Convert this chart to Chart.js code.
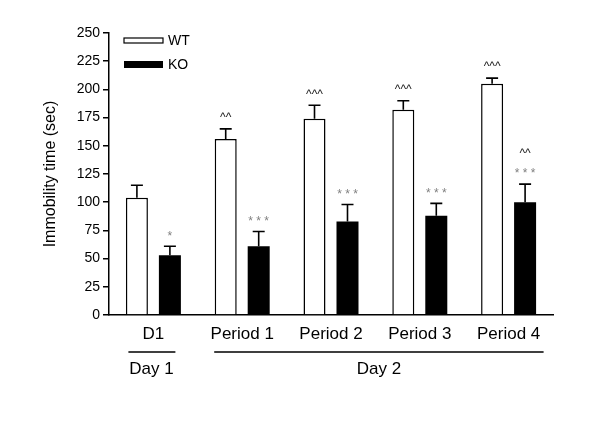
<!DOCTYPE html>
<html>
<head>
<meta charset="utf-8">
<script src="https://cdn.jsdelivr.net/npm/chart.js@4"></script>
<style>
  html, body { margin: 0; padding: 0; background: #fff; }
  #wrap { width: 600px; height: 425px; }
</style>
</head>
<body>
<div id="wrap"><canvas id="chartImob" width="600" height="425"></canvas></div>
<script>
// ===== DADOS =====
const categorias = ['D1', 'Period 1', 'Period 2', 'Period 3', 'Period 4'];
const wtMedia = [104, 156, 174, 182, 205];
const wtErro  = [11, 9, 12, 8, 5];
const koMedia = [53, 61, 83, 88, 100];
const koErro  = [8, 13, 15, 11, 16];
const wtMarcas = [[], ['^^'], ['^^^'], ['^^^'], ['^^^']];
const koMarcas = [['*'], ['* * *'], ['* * *'], ['* * *'], ['* * *', '^^']];
const yTicks = [0, 25, 50, 75, 100, 125, 150, 175, 200, 225, 250];

const FONTE = '"Liberation Sans", Arial, Helvetica, sans-serif';

// ===== PLUGIN: barras de erro, marcas, legenda, dias =====
const extras = {
  id: 'extras',
  afterDatasetsDraw(chart) {
    const ctx = chart.ctx;
    const y = chart.scales.y;
    const x = chart.scales.x;
    const erros = [wtErro, koErro];
    const marcas = [wtMarcas, koMarcas];

    ctx.save();
    chart.data.datasets.forEach((ds, di) => {
      const meta = chart.getDatasetMeta(di);
      meta.data.forEach((bar, i) => {
        const topo = y.getPixelForValue(ds.data[i] + erros[di][i]);
        const base = y.getPixelForValue(ds.data[i]);
        ctx.strokeStyle = '#000';
        ctx.lineWidth = 1.6;
        ctx.beginPath();
        ctx.moveTo(bar.x, base);
        ctx.lineTo(bar.x, topo);
        ctx.moveTo(bar.x - 6, topo);
        ctx.lineTo(bar.x + 6, topo);
        ctx.stroke();

        // marcas de significância
        ctx.textAlign = 'center';
        ctx.textBaseline = 'middle';
        marcas[di][i].forEach((m, k) => {
          const ehAst = m.indexOf('*') >= 0;
          ctx.fillStyle = ehAst ? '#808080' : '#222';
          ctx.font = '12px ' + FONTE;
          const yy = topo - (ehAst ? 10 : 11) - k * 19;
          ctx.fillText(m, bar.x, yy);
        });
      });
    });

    // legenda
    const lx = chart.chartArea.left + 15;
    ctx.lineWidth = 1.2;
    ctx.strokeStyle = '#000';
    ctx.fillStyle = '#fff';
    ctx.fillRect(lx, 38, 39, 5);
    ctx.strokeRect(lx, 38, 39, 5);
    ctx.fillStyle = '#000';
    ctx.fillRect(lx, 61, 39, 7);
    ctx.font = '14px ' + FONTE;
    ctx.textAlign = 'left';
    ctx.textBaseline = 'middle';
    ctx.fillText('WT', lx + 44, 41);
    ctx.fillText('KO', lx + 44, 65);

    // linhas dos dias
    const yLinha = chart.chartArea.bottom + 37;
    const c0 = x.getPixelForValue(0);
    const c1 = x.getPixelForValue(1);
    const c4 = x.getPixelForValue(4);
    ctx.lineWidth = 1.3;
    ctx.beginPath();
    ctx.moveTo(c0 - 25, yLinha);
    ctx.lineTo(c0 + 22, yLinha);
    ctx.moveTo(c1 - 28, yLinha);
    ctx.lineTo(c4 + 35, yLinha);
    ctx.stroke();
    ctx.font = '17px ' + FONTE;
    ctx.textAlign = 'center';
    ctx.fillText('Day 1', c0 - 2, yLinha + 17);
    ctx.fillText('Day 2', (c1 - 28 + c4 + 35) / 2, yLinha + 17);
    ctx.restore();
  }
};

// ===== GRÁFICO =====
new Chart(document.getElementById('chartImob').getContext('2d'), {
  type: 'bar',
  data: {
    labels: categorias,
    datasets: [
      {
        label: 'WT',
        data: wtMedia,
        backgroundColor: '#fff',
        borderColor: '#000',
        borderWidth: 1.5,
        borderSkipped: 'bottom'
      },
      {
        label: 'KO',
        data: koMedia,
        backgroundColor: '#000',
        borderColor: '#000',
        borderWidth: 0
      }
    ]
  },
  options: {
    responsive: false,
    animation: false,
    devicePixelRatio: 1,
    categoryPercentage: 0.743,
    barPercentage: 0.667,
    layout: { padding: { top: 33, right: 47, left: 0, bottom: 0 } },
    plugins: { legend: { display: false }, tooltip: { enabled: false } },
    scales: {
      x: {
        grid: { display: false, drawTicks: false },
        border: { display: true, color: '#000', width: 1.5 },
        ticks: { color: '#000', font: { family: FONTE, size: 17 }, padding: 9, maxRotation: 0 },
        afterFit: s => { s.height = 110; }
      },
      y: {
        min: 0,
        max: 250,
        afterBuildTicks: s => { s.ticks = yTicks.map(v => ({ value: v })); },
        grid: { display: true, drawOnChartArea: false, drawTicks: true, tickLength: 6, color: '#000', lineWidth: 1.5 },
        border: { display: true, color: '#000', width: 1.5 },
        ticks: { color: '#000', font: { family: FONTE, size: 14 }, padding: 3 },
        title: {
          display: true,
          text: 'Immobility time (sec)',
          color: '#000',
          font: { family: FONTE, size: 16 },
          padding: { top: 41, bottom: 0 }
        },
        afterFit: s => { s.width = 109; }
      }
    }
  },
  plugins: [extras]
});
</script>
</body>
</html>
